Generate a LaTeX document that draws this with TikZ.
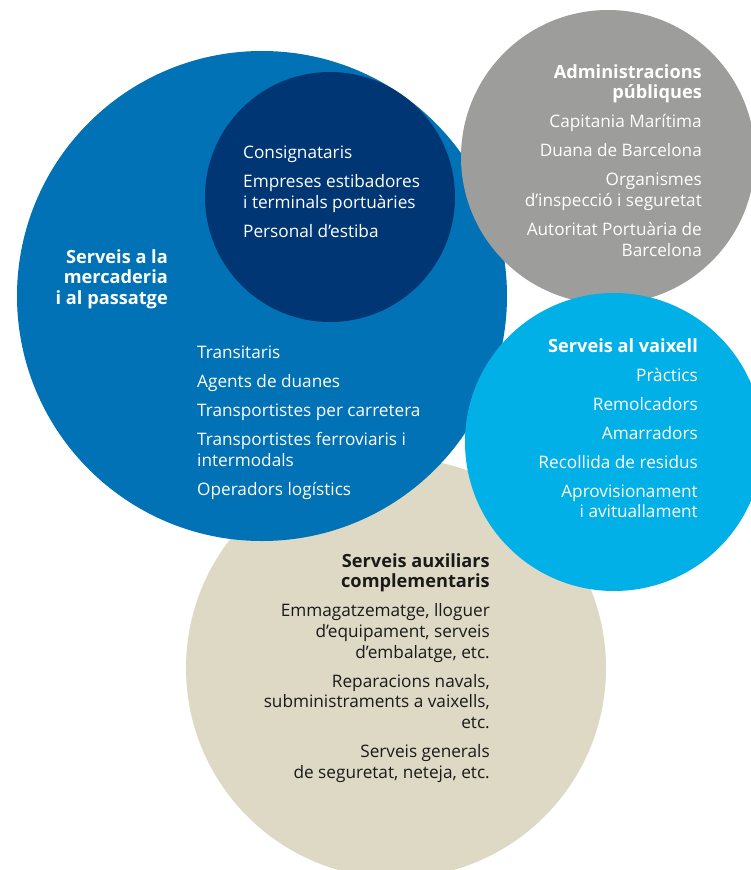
\documentclass[tikz,border=0pt]{standalone}
\usepackage{fontspec}
\setmainfont{Open Sans}
\begin{document}
\begin{tikzpicture}[x=1pt,y=-1pt]
\newcommand{\fsize}{\fontsize{17.2}{20.7}\selectfont}
\newcommand{\hd}[1]{{\fontsize{18.2}{20.7}\selectfont\bfseries #1}}
\tikzstyle{disc}=[circle,inner sep=0pt,draw=none]
\tikzstyle{txt}=[inner sep=0pt,font=\fsize]
\tikzstyle{leftblock}=[txt,anchor=north west,align=left]
\tikzstyle{rightblock}=[txt,anchor=north east,align=right]
\definecolor{beigecolor}{RGB}{221,217,196}
\definecolor{bluecolor}{RGB}{0,114,181}
\definecolor{navycolor}{RGB}{0,54,116}
\definecolor{greycolor}{RGB}{157,157,156}
\definecolor{cyancolor}{RGB}{0,176,230}
\definecolor{inkcolor}{RGB}{26,26,26}
\useasboundingbox (0,0) rectangle (751,870);
\clip (0,0) rectangle (751,870);
\fill[white] (0,0) rectangle (751,870);
% circles
\node[disc,fill=beigecolor,minimum size=420] (aux) at (396,668) {};
\node[disc,fill=bluecolor,minimum size=490] (merc) at (262,296) {};
\node[disc,fill=navycolor,minimum size=250] (cons) at (330,197) {};
\node[disc,fill=greycolor,minimum size=294] (admin) at (608,157) {};
\node[disc,fill=cyancolor,minimum size=298] (vaix) at (614,442) {};
% texts
\node[rightblock,text=white] (merctitle) at (168,249) {\hd{Serveis a la}\\\hd{mercaderia}\\\hd{i al passatge}};
\node[leftblock,text=white] (constxt) at (243,146) {Consignataris\\[8.3pt]Empreses estibadores\\i terminals portuàries\\[8.3pt]Personal d’estiba};
\node[leftblock,text=white] (merctxt) at (197,346) {Transitaris\\[8.3pt]Agents de duanes\\[8.3pt]Transportistes per carretera\\[8.3pt]Transportistes ferroviaris i\\intermodals\\[8.3pt]Operadors logístics};
\node[rightblock,text=white] (admintxt) at (702,64) {\hd{Administracions}\\\hd{públiques}\\[8.3pt]Capitania Marítima\\[8.3pt]Duana de Barcelona\\[8.3pt]Organismes\\d’inspecció i seguretat\\[8.3pt]Autoritat Portuària de\\Barcelona};
\node[rightblock,text=white] (vaixtxt) at (698,338) {\hd{Serveis al vaixell}\\[8.3pt]Pràctics\\[8.3pt]Remolcadors\\[8.3pt]Amarradors\\[8.3pt]Recollida de residus\\[8.3pt]Aprovisionament\\i avituallament};
\node[rightblock,text=inkcolor] (auxtxt) at (490,553) {\hd{Serveis auxiliars}\\\hd{complementaris}\\[8.3pt]Emmagatzematge, lloguer\\d’equipament, serveis\\d’embalatge, etc.\\[8.3pt]Reparacions navals,\\subministraments a vaixells,\\etc.\\[8.3pt]Serveis generals\\de seguretat, neteja, etc.};
\end{tikzpicture}
\end{document}
